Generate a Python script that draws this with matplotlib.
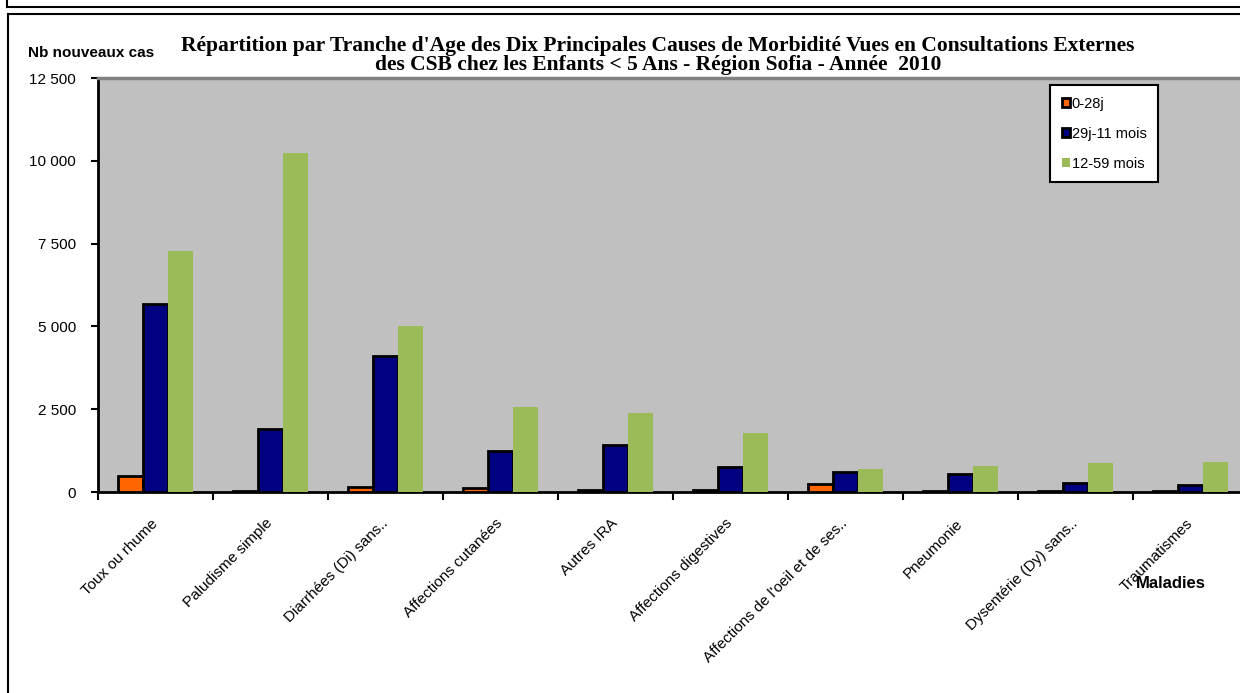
import matplotlib
matplotlib.use('Agg')
import matplotlib.pyplot as plt
from matplotlib.ticker import FuncFormatter, FixedLocator
from matplotlib.lines import Line2D
import numpy as np

categories = ["Toux ou rhume", "Paludisme simple", "Diarrhées (Di) sans..",
              "Affections cutanées", "Autres IRA", "Affections digestives",
              "Affections de l'oeil et de ses..", "Pneumonie",
              "Dysentérie (Dy) sans..", "Traumatismes"]
series_names = ["0-28j", "29j-11 mois", "12-59 mois"]
v_0_28j = [490, 30, 160, 110, 60, 60, 245, 35, 20, 20]
v_29j_11m = [5670, 1900, 4115, 1240, 1420, 760, 610, 540, 280, 215]
v_12_59m = [7280, 10240, 5010, 2560, 2380, 1775, 680, 800, 890, 920]
y_ticks = [0, 2500, 5000, 7500, 10000, 12500]

W, H = 1240, 693
fig = plt.figure(figsize=(W / 100, H / 100), dpi=100)
fig.patch.set_facecolor('white')

def fx(px):
    return px / W

def fy(py):
    return 1 - py / H

# outer frames
fig.add_artist(Line2D([fx(7), fx(1240)], [fy(7), fy(7)], color='black', lw=1.5))
fig.add_artist(Line2D([fx(7), fx(7)], [fy(0), fy(7)], color='black', lw=1.5))
fig.add_artist(Line2D([fx(8), fx(1240)], [fy(14), fy(14)], color='black', lw=1.5))
fig.add_artist(Line2D([fx(8), fx(8)], [fy(14), fy(693)], color='black', lw=1.5))

ax = fig.add_axes([fx(98), fy(492), (1248 - 98) / W, (492 - 78) / H])
ax.set_facecolor('#C0C0C0')

x = np.arange(len(categories))
w = 25 / 115
colors = ['#FF6600', '#000080', '#9BBB59']
edges = ['black', 'black', 'none']
data = [v_0_28j, v_29j_11m, v_12_59m]
handles = []
for k, (vals, c, e, name) in enumerate(zip(data, colors, edges, series_names)):
    b = ax.bar(x + (k - 1) * w, vals, width=w, color=c, edgecolor=e,
               linewidth=2 if e != 'none' else 0, label=name, zorder=3)
    handles.append(b)

ax.set_xlim(-0.5, 9.5)
ax.set_ylim(0, 12500)
ax.yaxis.set_major_locator(FixedLocator(y_ticks))
ax.yaxis.set_major_formatter(FuncFormatter(lambda v, p: f"{int(v):,}".replace(",", " ")))
ax.tick_params(axis='y', direction='out', length=5, width=1.5, pad=11,
               labelsize=11, colors='black')
for lab in ax.get_yticklabels():
    lab.set_fontfamily('Liberation Sans')

ax.set_xticks(x)
ax.set_xticklabels(categories, rotation=45, ha='right', va='center',
                   rotation_mode='anchor', fontsize=11, fontfamily='Liberation Sans')
ax.tick_params(axis='x', which='major', length=0, pad=21)
ax.set_xticks(np.arange(-0.5, 10, 1), minor=True)
ax.tick_params(axis='x', which='minor', direction='out', length=6, width=1.5)

for s in ['left', 'bottom']:
    ax.spines[s].set_color('black')
    ax.spines[s].set_linewidth(2)
ax.spines['top'].set_color('#808080')
ax.spines['top'].set_linewidth(2.5)
ax.spines['right'].set_visible(False)

leg = ax.legend(handles=handles, loc='upper left',
                bbox_to_anchor=(fx(1050), fy(85)), bbox_transform=fig.transFigure,
                borderaxespad=0, fancybox=False, frameon=True, framealpha=1,
                edgecolor='black', facecolor='white',
                prop={'family': 'Liberation Sans', 'size': 10.5},
                handlelength=0.55, handleheight=0.55, handletextpad=0.15,
                labelspacing=1.1, borderpad=0.8)
leg.get_frame().set_linewidth(1.5)

title = ("Répartition par Tranche d'Age des Dix Principales Causes de Morbidité Vues en Consultations Externes\n"
         "des CSB chez les Enfants < 5 Ans - Région Sofia - Année  2010")
fig.text(fx(658), fy(55.5), title, ha='center', va='center', fontsize=15.5,
         fontweight='bold', fontfamily='Liberation Serif', linespacing=0.95)

fig.text(fx(28), fy(53), "Nb nouveaux cas", ha='left', va='center', fontsize=11,
         fontweight='bold', fontfamily='Liberation Sans')
fig.text(fx(1171), fy(584), "Maladies", ha='center', va='center', fontsize=12,
         fontweight='bold', fontfamily='Liberation Sans')

fig.savefig('out.png', dpi=100)
